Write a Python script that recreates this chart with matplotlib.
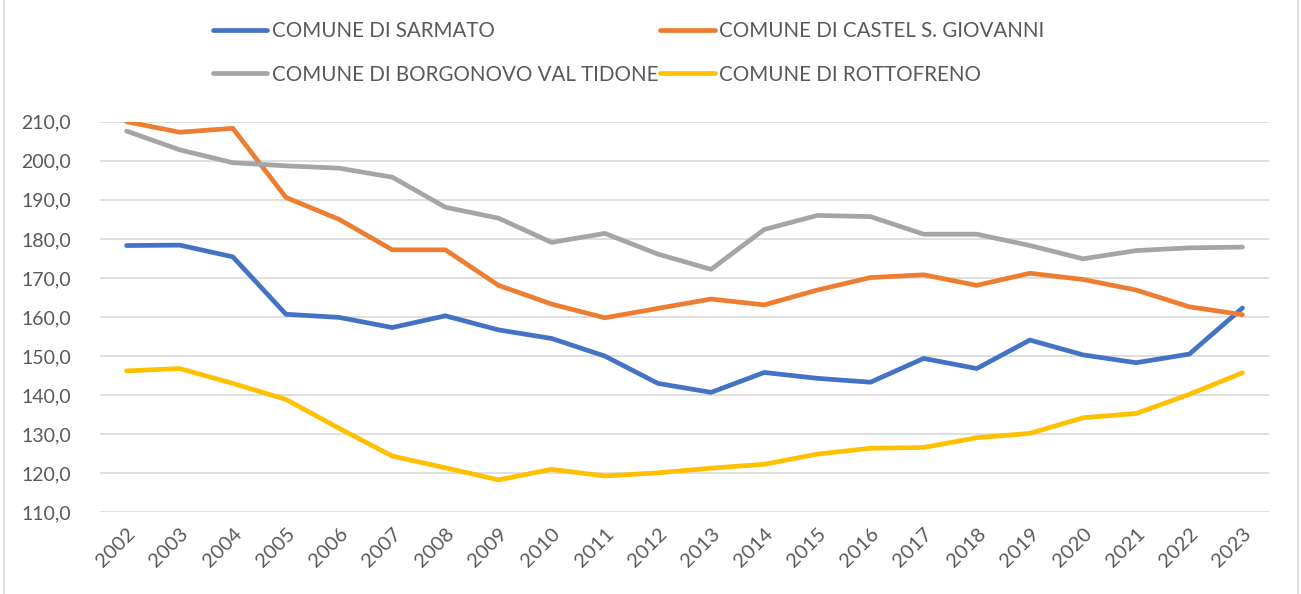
import matplotlib.pyplot as plt
from matplotlib.patches import Rectangle
from matplotlib.ticker import FuncFormatter

plt.rcParams['font.family'] = ['Lato', 'DejaVu Sans']

years = [str(y) for y in range(2002, 2024)]

sarmato = [178.3, 178.4, 175.4, 160.7, 159.9, 157.3, 160.3, 156.7, 154.5, 150.0, 143.0,
           140.7, 145.8, 144.3, 143.3, 149.4, 146.8, 154.1, 150.3, 148.3, 150.5, 162.3]
castel = [210.0, 207.3, 208.3, 190.6, 185.0, 177.2, 177.2, 168.1, 163.3, 159.8, 162.2,
          164.6, 163.1, 166.9, 170.1, 170.8, 168.1, 171.2, 169.6, 166.9, 162.6, 160.6]
borgonovo = [207.6, 202.8, 199.5, 198.7, 198.1, 195.8, 188.1, 185.3, 179.1, 181.4, 176.1,
             172.2, 182.4, 186.0, 185.7, 181.2, 181.2, 178.3, 174.9, 177.0, 177.7, 177.9]
rottofreno = [146.2, 146.8, 143.0, 138.9, 131.5, 124.4, 121.4, 118.3, 121.0, 119.3, 120.1,
              121.3, 122.3, 124.9, 126.4, 126.6, 129.1, 130.2, 134.2, 135.3, 140.2, 145.7]

series = [
    ("COMUNE DI SARMATO", sarmato, "#4472C4"),
    ("COMUNE DI CASTEL S. GIOVANNI", castel, "#ED7D31"),
    ("COMUNE DI BORGONOVO VAL TIDONE", borgonovo, "#A5A5A5"),
    ("COMUNE DI ROTTOFRENO", rottofreno, "#FFC000"),
]

W, H = 1301, 594
fig = plt.figure(figsize=(W / 100, H / 100), dpi=100)
ax = fig.add_axes([100 / W, 1 - 512.3 / H, (1269 - 100) / W, (512.3 - 121.7) / H])

x = list(range(len(years)))
lines = {}
for name, vals, col in series:
    lines[name], = ax.plot(x, vals, color=col, lw=3.4, label=name,
                           solid_capstyle='round', solid_joinstyle='round', zorder=3)

ax.set_xlim(-0.5, len(years) - 0.5)
ax.set_ylim(110, 210)
ax.set_yticks(range(110, 211, 10))
ax.yaxis.set_major_formatter(FuncFormatter(lambda v, p: f"{v:.1f}".replace('.', ',')))
ax.set_xticks(x)
ax.set_xticklabels(years, rotation=45, ha='right', va='top', rotation_mode='anchor')

ax.grid(axis='y', color='#D9D9D9', lw=1.2, zorder=0)
for s in ax.spines.values():
    s.set_visible(False)
ax.tick_params(axis='both', length=0, colors='#595959')
ax.tick_params(axis='y', pad=21, labelsize=14)
ax.tick_params(axis='x', pad=9, labelsize=14.5)

# legend ordered row by row: two entries per row
order = ["COMUNE DI SARMATO", "COMUNE DI BORGONOVO VAL TIDONE",
         "COMUNE DI CASTEL S. GIOVANNI", "COMUNE DI ROTTOFRENO"]
leg = fig.legend([lines[n] for n in order], order, ncol=2, frameon=False,
                 loc='upper left', bbox_to_anchor=(213 / W, 1 - 21 / H),
                 fontsize=14.8, handlelength=2.65, handletextpad=0.2,
                 columnspacing=0.1, labelspacing=1.15, borderpad=0, borderaxespad=0)
for t in leg.get_texts():
    t.set_color('#595959')

# chart area border
fig.patches.append(Rectangle((4 / W, -0.01), (1298 - 4) / W, 1.02, transform=fig.transFigure,
                             fill=False, edgecolor='#D9D9D9', lw=1.2))

fig.savefig('out.png', dpi=100, facecolor='white')
